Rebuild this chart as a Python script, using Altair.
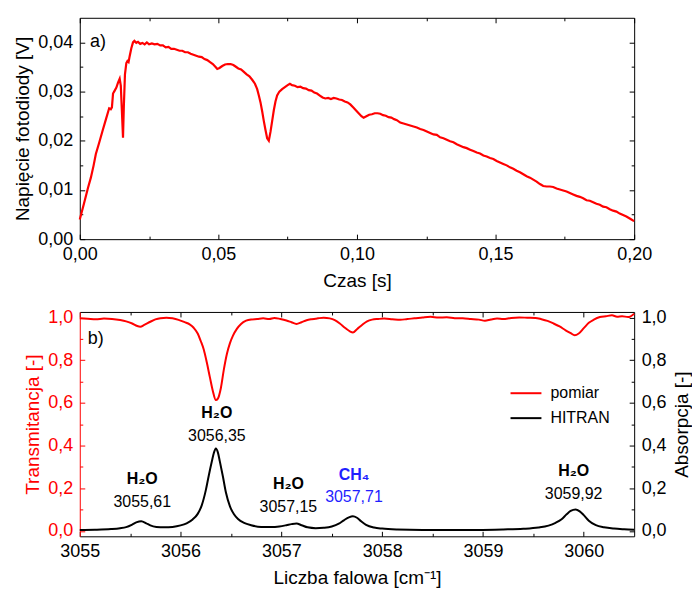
import altair as alt
import pandas as pd

# ---------------- panel a) : photodiode voltage vs time ----------------
time_s = [0.0000, 0.0015, 0.0030, 0.0040, 0.0050, 0.0058, 0.0070, 0.0082, 0.0094, 0.0106,
          0.0112, 0.0116, 0.0120, 0.0126, 0.0132, 0.0138, 0.0144, 0.0148, 0.0152, 0.0156,
          0.0159, 0.0163, 0.0168, 0.0172, 0.0176, 0.0180, 0.0186, 0.0192, 0.0197, 0.0204,
          0.0210, 0.0218, 0.0226, 0.0234, 0.0242, 0.0250, 0.0260, 0.0270, 0.0280, 0.0290,
          0.0300, 0.0310, 0.0320, 0.0330, 0.0340, 0.0350, 0.0360, 0.0370, 0.0380, 0.0390,
          0.0400, 0.0410, 0.0420, 0.0430, 0.0440, 0.0450, 0.0460, 0.0470, 0.0480, 0.0490,
          0.0496, 0.0504, 0.0514, 0.0524, 0.0534, 0.0544, 0.0554, 0.0562, 0.0572, 0.0582,
          0.0592, 0.0602, 0.0612, 0.0622, 0.0632, 0.0640, 0.0646, 0.0652, 0.0658, 0.0664,
          0.0670, 0.0676, 0.0682, 0.0688, 0.0694, 0.0700, 0.0706, 0.0712, 0.0720, 0.0730,
          0.0740, 0.0750, 0.0758, 0.0766, 0.0776, 0.0786, 0.0796, 0.0806, 0.0816, 0.0826,
          0.0836, 0.0846, 0.0856, 0.0866, 0.0876, 0.0886, 0.0896, 0.0906, 0.0916, 0.0926,
          0.0936, 0.0946, 0.0956, 0.0966, 0.0976, 0.0986, 0.0996, 0.1006, 0.1016, 0.1024,
          0.1034, 0.1044, 0.1054, 0.1064, 0.1074, 0.1084, 0.1094, 0.1104, 0.1114, 0.1124,
          0.1134, 0.1144, 0.1156, 0.1168, 0.1180, 0.1192, 0.1204, 0.1216, 0.1228, 0.1240,
          0.1252, 0.1264, 0.1276, 0.1288, 0.1300, 0.1312, 0.1324, 0.1336, 0.1348, 0.1360,
          0.1372, 0.1384, 0.1396, 0.1408, 0.1420, 0.1432, 0.1444, 0.1456, 0.1468, 0.1480,
          0.1492, 0.1504, 0.1516, 0.1528, 0.1540, 0.1552, 0.1564, 0.1576, 0.1588, 0.1600,
          0.1612, 0.1624, 0.1636, 0.1648, 0.1660, 0.1672, 0.1684, 0.1696, 0.1708, 0.1720,
          0.1732, 0.1744, 0.1756, 0.1768, 0.1780, 0.1792, 0.1804, 0.1816, 0.1828, 0.1840,
          0.1852, 0.1864, 0.1876, 0.1888, 0.1900, 0.1912, 0.1924, 0.1936, 0.1948, 0.1960,
          0.1972, 0.1984, 0.1996, 0.2000]
voltage = [0.0040, 0.0072, 0.0105, 0.0125, 0.0150, 0.0173, 0.0196, 0.0220, 0.0243, 0.0266,
           0.0264, 0.0268, 0.0296, 0.0302, 0.0308, 0.0318, 0.0326, 0.0312, 0.0260, 0.0206,
           0.0270, 0.0335, 0.0358, 0.0362, 0.0360, 0.0372, 0.0388, 0.0400, 0.0403, 0.0399,
           0.0401, 0.0397, 0.0399, 0.0396, 0.0400, 0.0396, 0.0398, 0.0396, 0.0397, 0.0394,
           0.0394, 0.0390, 0.0391, 0.0387, 0.0387, 0.0385, 0.0383, 0.0383, 0.0380, 0.0380,
           0.0377, 0.0375, 0.0373, 0.0371, 0.0370, 0.0366, 0.0364, 0.0360, 0.0356, 0.0350,
           0.0346, 0.0348, 0.0352, 0.0355, 0.0356, 0.0356, 0.0354, 0.0351, 0.0347, 0.0345,
           0.0340, 0.0335, 0.0331, 0.0324, 0.0316, 0.0305, 0.0292, 0.0278, 0.0260, 0.0240,
           0.0222, 0.0205, 0.0200, 0.0218, 0.0240, 0.0262, 0.0280, 0.0292, 0.0300, 0.0305,
           0.0309, 0.0313, 0.0316, 0.0313, 0.0312, 0.0309, 0.0310, 0.0307, 0.0306, 0.0303,
           0.0302, 0.0298, 0.0296, 0.0292, 0.0288, 0.0286, 0.0287, 0.0285, 0.0287, 0.0286,
           0.0284, 0.0283, 0.0280, 0.0278, 0.0274, 0.0268, 0.0262, 0.0256, 0.0250, 0.0247,
           0.0250, 0.0253, 0.0254, 0.0256, 0.0256, 0.0255, 0.0252, 0.0251, 0.0248, 0.0247,
           0.0244, 0.0242, 0.0237, 0.0235, 0.0233, 0.0231, 0.0229, 0.0227, 0.0224, 0.0222,
           0.0219, 0.0216, 0.0213, 0.0212, 0.0207, 0.0205, 0.0202, 0.0199, 0.0197, 0.0193,
           0.0190, 0.0187, 0.0185, 0.0182, 0.0179, 0.0176, 0.0174, 0.0170, 0.0168, 0.0165,
           0.0163, 0.0159, 0.0156, 0.0153, 0.0150, 0.0146, 0.0143, 0.0139, 0.0136, 0.0132,
           0.0128, 0.0125, 0.0121, 0.0117, 0.0112, 0.0108, 0.0107, 0.0107, 0.0106, 0.0103,
           0.0101, 0.0099, 0.0097, 0.0094, 0.0091, 0.0088, 0.0086, 0.0083, 0.0079, 0.0078,
           0.0075, 0.0072, 0.0070, 0.0066, 0.0065, 0.0061, 0.0058, 0.0056, 0.0052, 0.0049,
           0.0046, 0.0042, 0.0038, 0.0037]

top_x_major = [0.0, 0.05, 0.10, 0.15, 0.20]
top_x_minor = [0.025, 0.075, 0.125, 0.175]
top_y_major = [0.0, 0.01, 0.02, 0.03, 0.04]
top_y_minor = [0.005, 0.015, 0.025, 0.035]

# ---------------- panel b) : transmittance / absorption ----------------
wn_meas = [3055.00, 3055.08, 3055.16, 3055.24, 3055.32, 3055.40, 3055.46, 3055.52, 3055.57, 3055.60,
           3055.64, 3055.70, 3055.75, 3055.80, 3055.86, 3055.92, 3055.98, 3056.04, 3056.09, 3056.13,
           3056.17, 3056.20, 3056.23, 3056.26, 3056.29, 3056.32, 3056.35, 3056.37, 3056.40, 3056.43,
           3056.46, 3056.49, 3056.52, 3056.56, 3056.60, 3056.65, 3056.70, 3056.76, 3056.82, 3056.88,
           3056.93, 3056.99, 3057.05, 3057.10, 3057.15, 3057.20, 3057.25, 3057.30, 3057.36, 3057.42,
           3057.48, 3057.53, 3057.58, 3057.63, 3057.68, 3057.71, 3057.75, 3057.80, 3057.85, 3057.90,
           3057.96, 3058.02, 3058.10, 3058.18, 3058.25, 3058.32, 3058.40, 3058.48, 3058.56, 3058.64,
           3058.72, 3058.80, 3058.88, 3058.96, 3059.02, 3059.08, 3059.14, 3059.20, 3059.28, 3059.36,
           3059.44, 3059.52, 3059.58, 3059.64, 3059.70, 3059.76, 3059.82, 3059.87, 3059.91, 3059.95,
           3060.00, 3060.05, 3060.10, 3060.16, 3060.22, 3060.28, 3060.33, 3060.38, 3060.44, 3060.50]
transmittance = [0.996, 0.994, 0.992, 0.995, 0.993, 0.988, 0.982, 0.972, 0.960, 0.957,
                 0.965, 0.980, 0.991, 0.997, 0.999, 0.996, 0.989, 0.978, 0.968, 0.952,
                 0.925, 0.890, 0.850, 0.790, 0.722, 0.656, 0.613, 0.620, 0.670, 0.758,
                 0.830, 0.880, 0.915, 0.948, 0.970, 0.985, 0.991, 0.993, 0.996, 0.993,
                 0.998, 0.993, 0.986, 0.978, 0.970, 0.978, 0.987, 0.992, 0.996, 0.999,
                 0.996, 0.988, 0.972, 0.952, 0.935, 0.930, 0.945, 0.965, 0.982, 0.990,
                 0.993, 0.995, 0.992, 0.989, 0.993, 0.996, 1.000, 1.003, 1.000, 1.001,
                 0.997, 0.996, 0.993, 0.990, 0.985, 0.991, 0.995, 0.993, 0.998, 1.000,
                 0.999, 0.998, 0.992, 0.984, 0.972, 0.958, 0.940, 0.927, 0.917, 0.925,
                 0.950, 0.975, 0.990, 1.002, 1.006, 1.010, 1.004, 1.006, 1.002, 1.018]

wn_hitran = [3055.00, 3055.15, 3055.31, 3055.40, 3055.46, 3055.52, 3055.56, 3055.61, 3055.66, 3055.70,
             3055.76, 3055.84, 3055.92, 3056.00, 3056.06, 3056.12, 3056.17, 3056.21, 3056.25, 3056.28,
             3056.31, 3056.33, 3056.35, 3056.37, 3056.39, 3056.42, 3056.45, 3056.49, 3056.53, 3056.57,
             3056.63, 3056.70, 3056.80, 3056.90, 3056.98, 3057.05, 3057.10, 3057.15, 3057.20, 3057.26,
             3057.34, 3057.42, 3057.50, 3057.57, 3057.62, 3057.67, 3057.71, 3057.75, 3057.79, 3057.84,
             3057.92, 3058.00, 3058.15, 3058.40, 3058.70, 3058.95, 3059.20, 3059.40, 3059.55, 3059.65,
             3059.72, 3059.78, 3059.83, 3059.87, 3059.92, 3059.96, 3060.00, 3060.05, 3060.12, 3060.20,
             3060.30, 3060.40, 3060.50]
absorption = [0.005, 0.006, 0.009, 0.013, 0.018, 0.030, 0.040, 0.046, 0.036, 0.026,
              0.019, 0.017, 0.019, 0.026, 0.036, 0.054, 0.080, 0.120, 0.190, 0.260,
              0.325, 0.365, 0.386, 0.368, 0.325, 0.255, 0.180, 0.115, 0.078, 0.056,
              0.038, 0.027, 0.019, 0.018, 0.021, 0.027, 0.032, 0.035, 0.027, 0.017,
              0.013, 0.015, 0.021, 0.034, 0.050, 0.064, 0.069, 0.062, 0.046, 0.029,
              0.016, 0.011, 0.007, 0.005, 0.005, 0.005, 0.007, 0.010, 0.016, 0.025,
              0.038, 0.055, 0.078, 0.094, 0.101, 0.092, 0.074, 0.048, 0.027, 0.017,
              0.011, 0.008, 0.006]

peak_pos = [3055.62, 3056.36, 3057.07, 3057.72, 3059.90]
peak_molecule = ["H₂O", "H₂O", "H₂O", "CH₄", "H₂O"]
peak_label = ["3055,61", "3056,35", "3057,15", "3057,71", "3059,92"]
peak_mol_y = [0.243, 0.553, 0.221, 0.262, 0.282]
peak_num_y = [0.134, 0.443, 0.112, 0.157, 0.175]
peak_color = ["black", "black", "black", "#1f1fff", "black"]

series_names = ["pomiar", "HITRAN"]
series_colors = ["#ff0000", "#000000"]

bot_x_major = [3055, 3056, 3057, 3058, 3059, 3060]
bot_x_minor = [3055.5, 3056.5, 3057.5, 3058.5, 3059.5]
bot_y_major = [0.0, 0.2, 0.4, 0.6, 0.8, 1.0]
bot_y_minor = [0.1, 0.3, 0.5, 0.7, 0.9]

FONT = "Liberation Sans"
RED = "#ff0000"
fmt2 = "replace(format(datum.value, '.2f'), '.', ',')"
fmt1 = "replace(format(datum.value, '.1f'), '.', ',')"


def tick_axis(orient, values, size, color="black"):
    return alt.Axis(orient=orient, values=values, labels=False, domain=False, grid=False,
                    ticks=True, tickSize=size, offset=-size, tickColor=color, tickWidth=1)


def frame_axis(orient, color="black"):
    return alt.Axis(orient=orient, labels=False, domain=True, domainColor=color, domainWidth=1,
                    ticks=False, grid=False)


# ---------------- top chart ----------------
top_df = pd.DataFrame({"t": time_s, "v": voltage})
xs_top = alt.Scale(domain=[0, 0.2], nice=False, zero=False)
ys_top = alt.Scale(domain=[0, 0.045], nice=False, zero=False)

tb = alt.Chart(top_df)
top_main = tb.mark_line(color=RED, strokeWidth=2.2).encode(
    x=alt.X("t:Q", scale=xs_top, title="Czas [s]",
            axis=alt.Axis(orient="bottom", values=top_x_major, labelExpr=fmt2, ticks=False,
                          domain=True, domainColor="black", grid=False, labelPadding=6,
                          titlePadding=8, labelFlush=False)),
    y=alt.Y("v:Q", scale=ys_top, title="Napięcie fotodiody [V]",
            axis=alt.Axis(orient="left", values=top_y_major, labelExpr=fmt2, ticks=False,
                          domain=True, domainColor="black", grid=False, labelPadding=7,
                          titlePadding=5, labelFlush=False)),
)


def top_ghost(xaxis, yaxis):
    return tb.mark_line(opacity=0).encode(
        x=alt.X("t:Q", scale=xs_top, title=None, axis=xaxis),
        y=alt.Y("v:Q", scale=ys_top, title=None, axis=yaxis),
    )


top_layers = [
    top_main,
    top_ghost(tick_axis("bottom", top_x_major, 5), tick_axis("left", top_y_major, 5)),
    top_ghost(tick_axis("bottom", top_x_minor, 3), tick_axis("left", top_y_minor, 3)),
    top_ghost(frame_axis("top"), frame_axis("right")),
    top_ghost(tick_axis("top", top_x_major, 5), tick_axis("right", top_y_major, 5)),
    top_ghost(tick_axis("top", top_x_minor, 3), tick_axis("right", top_y_minor, 3)),
]

panel_a = pd.DataFrame({"t": [0.0037], "v": [0.0400], "txt": ["a)"]})
top_text = alt.Chart(panel_a).mark_text(align="left", baseline="middle", fontSize=18,
                                        font=FONT, color="black").encode(
    x=alt.X("t:Q", scale=xs_top, axis=None),
    y=alt.Y("v:Q", scale=ys_top, axis=None),
    text="txt:N",
)

top = alt.layer(*top_layers, top_text).resolve_axis(x="independent", y="independent").properties(
    width=556, height=222)

# ---------------- bottom chart ----------------
meas_df = pd.DataFrame({"wn": wn_meas, "val": transmittance, "series": "pomiar"})
hit_df = pd.DataFrame({"wn": wn_hitran, "val": absorption, "series": "HITRAN"})
xs_b = alt.Scale(domain=[3055, 3060.5], nice=False, zero=False)
ys_b = alt.Scale(domain=[-0.025, 1.026], nice=False, zero=False)

legend = alt.Legend(orient="none", legendX=431, legendY=65, title=None, symbolType="stroke",
                    symbolSize=961, symbolStrokeWidth=2, labelFontSize=16, labelFont=FONT,
                    labelOffset=8, rowPadding=-15, padding=0)
color = alt.Color("series:N", scale=alt.Scale(domain=series_names, range=series_colors),
                  legend=legend)

meas_line = alt.Chart(meas_df).mark_line(strokeWidth=2, interpolate="monotone").encode(
    x=alt.X("wn:Q", scale=xs_b, title="Liczba falowa [cm⁻¹]",
            axis=alt.Axis(orient="bottom", values=bot_x_major, format="d", ticks=False,
                          domain=True, domainColor="black", grid=False, labelPadding=6,
                          titlePadding=8, labelFlush=False)),
    y=alt.Y("val:Q", scale=ys_b, title="Transmitancja [-]",
            axis=alt.Axis(orient="left", values=bot_y_major, labelExpr=fmt1, ticks=False,
                          domain=True, domainColor=RED, grid=False, labelPadding=7,
                          titlePadding=5, labelColor=RED, titleColor=RED, labelFlush=False)),
    color=color,
)

hit_line = alt.Chart(hit_df).mark_line(strokeWidth=2, interpolate="monotone").encode(
    x=alt.X("wn:Q", scale=xs_b, title=None, axis=frame_axis("top")),
    y=alt.Y("val:Q", scale=ys_b, title="Absorpcja [-]",
            axis=alt.Axis(orient="right", values=bot_y_major, labelExpr=fmt1, ticks=False,
                          domain=True, domainColor="black", grid=False, labelPadding=7,
                          titlePadding=6, titleAngle=270, titleBaseline="top",
                          labelFlush=False)),
    color=color,
)

mb = alt.Chart(meas_df)


def bot_ghost(xaxis, yaxis):
    return mb.mark_line(opacity=0).encode(
        x=alt.X("wn:Q", scale=xs_b, title=None, axis=xaxis),
        y=alt.Y("val:Q", scale=ys_b, title=None, axis=yaxis),
    )


bot_layers = [
    meas_line,
    hit_line,
    bot_ghost(tick_axis("bottom", bot_x_major, 5), tick_axis("left", bot_y_major, 5, RED)),
    bot_ghost(tick_axis("bottom", bot_x_minor, 3), tick_axis("left", bot_y_minor, 3, RED)),
    bot_ghost(tick_axis("top", bot_x_major, 5), tick_axis("right", bot_y_major, 5)),
    bot_ghost(tick_axis("top", bot_x_minor, 3), tick_axis("right", bot_y_minor, 3)),
]

peaks = pd.DataFrame({"wn": peak_pos, "mol": peak_molecule, "num": peak_label,
                      "mol_y": peak_mol_y, "num_y": peak_num_y, "col": peak_color})
mol_text = alt.Chart(peaks).mark_text(align="center", baseline="middle", fontSize=16,
                                      fontWeight="bold", font=FONT).encode(
    x=alt.X("wn:Q", scale=xs_b, axis=None),
    y=alt.Y("mol_y:Q", scale=ys_b, axis=None),
    text="mol:N",
    color=alt.Color("col:N", scale=None),
)
num_text = alt.Chart(peaks).mark_text(align="center", baseline="middle", fontSize=16,
                                      font=FONT).encode(
    x=alt.X("wn:Q", scale=xs_b, axis=None),
    y=alt.Y("num_y:Q", scale=ys_b, axis=None),
    text="num:N",
    color=alt.Color("col:N", scale=None),
)
panel_b = pd.DataFrame({"wn": [3055.08], "val": [0.90], "txt": ["b)"]})
b_text = alt.Chart(panel_b).mark_text(align="left", baseline="middle", fontSize=18,
                                      font=FONT, color="black").encode(
    x=alt.X("wn:Q", scale=xs_b, axis=None),
    y=alt.Y("val:Q", scale=ys_b, axis=None),
    text="txt:N",
)

bottom = alt.layer(*bot_layers, mol_text, num_text, b_text).resolve_axis(
    x="independent", y="independent").properties(width=556, height=225)

chart = alt.vconcat(top, bottom, spacing=18).resolve_scale(color="independent").properties(
    padding={"left": 13, "top": 16, "right": 0, "bottom": 0},
    background="white",
).configure_view(strokeWidth=0).configure_axis(
    labelFont=FONT, titleFont=FONT, labelFontSize=18, titleFontSize=19,
    labelColor="black", titleColor="black", titleFontWeight="normal",
).configure_legend(labelColor="black")

chart.save("out.html", embed_options={"renderer": "svg", "actions": False})
